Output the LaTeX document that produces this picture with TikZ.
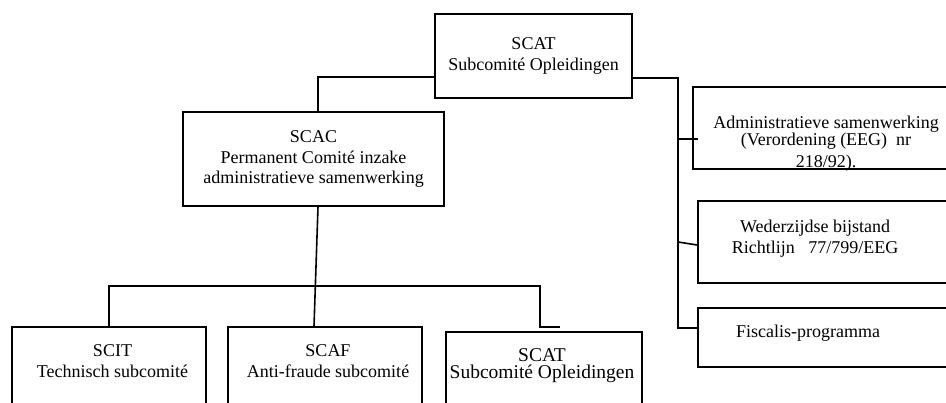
\documentclass[tikz,border=0pt]{standalone}
\usepackage{fontspec}
\setmainfont{Liberation Serif}

\tikzset{
  orgbox/.style={draw,line width=1.6pt,inner sep=0pt},
  orgtxt/.style={align=center,inner sep=0pt},
  orgline/.style={line width=1.6pt}
}

\begin{document}
\begin{tikzpicture}[x=1pt,y=-1pt,font=\fontsize{18}{20.5}\selectfont]
\useasboundingbox (0,0) rectangle (946,403);
\clip (0,0) rectangle (946,403);
\node[orgbox,orgtxt,minimum width=197pt,minimum height=84pt] (scat) at (533.5,56) {SCAT\\Subcomité Opleidingen};
\node[orgbox,orgtxt,minimum width=261pt,minimum height=94pt] (scac) at (313.5,159) {SCAC\\Permanent Comité inzake\\administratieve samenwerking};
\node[orgbox,minimum width=277pt,minimum height=82pt] (adm) at (831.5,128) {};
\node[orgbox,minimum width=272pt,minimum height=82pt] (wed) at (834,242) {};
\node[orgbox,minimum width=272pt,minimum height=59pt] (fisc) at (834,337.5) {};
\node[orgbox,minimum width=194pt,minimum height=93pt] (scit) at (109,373.5) {};
\node[orgbox,minimum width=194pt,minimum height=93pt] (scaf) at (325,373.5) {};
\node[orgbox,minimum width=196pt,minimum height=88pt] (scatb) at (544,376) {};
\node[orgtxt] (admtxt) at (826,143.3) {Administratieve samenwerking\\[-3.5pt](Verordening (EEG)~~nr\\[1.5pt]218/92).};
\node[orgtxt] (wedtxt) at (815,238.8) {Wederzijdse bijstand\\Richtlijn~~~77/799/EEG};
\node[orgtxt] (fisctxt) at (808,332.8) {Fiscalis-programma};
\node[orgtxt] (scittxt) at (112.5,361) {SCIT\\Technisch subcomité};
\node[orgtxt] (scaftxt) at (328,361) {SCAF\\Anti-fraude subcomité};
\node[orgtxt,font=\fontsize{19.5}{20.5}\selectfont] (scatbtxt) at (542,365.6) {SCAT\\[-3pt]Subcomité Opleidingen};
\coordinate (bus) at (678,328);
\coordinate (bar) at (540,286);
\coordinate (hook) at (560,327);
\draw[orgline] ([yshift=-21pt]scat.west) -| ([xshift=4.5pt]scac.north);
\draw[orgline] ([yshift=-22pt]scat.east) -| (bus) -- ([yshift=9.5pt]fisc.west);
\draw[orgline] ([xshift=6pt,yshift=-11pt]adm.west) -- ++(-21,0);
\draw[orgline] ([yshift=-3pt]wed.west) -- (bus |- wed.west);
\draw[orgline] ([xshift=4.5pt]scac.south) -- ([xshift=-11pt]scaf.north);
\draw[orgline] (scit.north) |- (bar) |- (hook);
\end{tikzpicture}
\end{document}
